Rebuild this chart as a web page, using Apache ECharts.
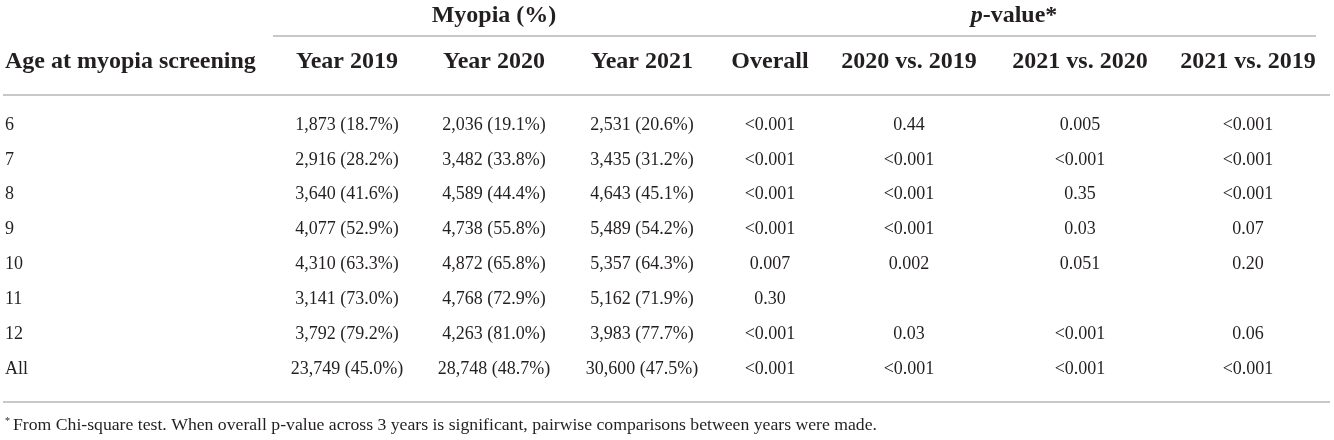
<!DOCTYPE html>
<html>
<head>
<meta charset="utf-8">
<script src="https://cdn.jsdelivr.net/npm/echarts@6/dist/echarts.min.js"></script>
<style>
  html, body { margin: 0; padding: 0; background: #fff; }
  #main { width: 1334px; height: 440px; }
</style>
</head>
<body>
<div id="main"></div>
<script>
// table data
var ages = ['6', '7', '8', '9', '10', '11', '12', 'All']
var columns = ['Year 2019', 'Year 2020', 'Year 2021', 'Overall', '2020 vs. 2019', '2021 vs. 2020', '2021 vs. 2019']
var year2019 = ['1,873 (18.7%)', '2,916 (28.2%)', '3,640 (41.6%)', '4,077 (52.9%)', '4,310 (63.3%)', '3,141 (73.0%)', '3,792 (79.2%)', '23,749 (45.0%)']
var year2020 = ['2,036 (19.1%)', '3,482 (33.8%)', '4,589 (44.4%)', '4,738 (55.8%)', '4,872 (65.8%)', '4,768 (72.9%)', '4,263 (81.0%)', '28,748 (48.7%)']
var year2021 = ['2,531 (20.6%)', '3,435 (31.2%)', '4,643 (45.1%)', '5,489 (54.2%)', '5,357 (64.3%)', '5,162 (71.9%)', '3,983 (77.7%)', '30,600 (47.5%)']
var pOverall = ['<0.001', '<0.001', '<0.001', '<0.001', '0.007', '0.30', '<0.001', '<0.001']
var p2020vs2019 = ['0.44', '<0.001', '<0.001', '<0.001', '0.002', '', '0.03', '<0.001']
var p2021vs2020 = ['0.005', '<0.001', '0.35', '0.03', '0.051', '', '<0.001', '<0.001']
var p2021vs2019 = ['<0.001', '<0.001', '<0.001', '0.07', '0.20', '', '0.06', '<0.001']

var serif = '"Liberation Serif", "DejaVu Serif", serif'
var ink = '#231f20'
var rule = '#c8c8c8'

// 列边界 (layout only)
var colEdges = [273.5, 420.5, 567.5, 716.5, 823.5, 994.5, 1165.5, 1330.5]
var gridTop = 107.5
var gridBottom = 53.5

var cols = [year2019, year2020, year2021, pOverall, p2020vs2019, p2021vs2020, p2021vs2019]

var grids = [], xAxes = [], yAxes = [], series = []
/* 每列一个 grid, 文字作为标签 */
cols.forEach(function (col, c) {
    grids.push({ left: colEdges[c], width: colEdges[c + 1] - colEdges[c], top: gridTop, bottom: gridBottom })
    xAxes.push({
        type: 'category',
        gridIndex: c,
        position: 'top',
        data: [columns[c]],
        axisLine: { show: false },
        axisTick: { show: false },
        splitLine: { show: false },
        axisLabel: {
            interval: 0,
            margin: gridTop - 62,
            verticalAlign: 'middle',
            fontFamily: serif,
            fontWeight: 'bold',
            fontSize: 24,
            color: ink
        }
    })
    yAxes.push({
        type: 'category',
        gridIndex: c,
        inverse: true,
        data: ages,
        show: c === 0,
        axisLine: { show: false },
        axisTick: { show: false },
        splitLine: { show: false },
        axisLabel: {
            interval: 0,
            align: 'left',
            margin: colEdges[0] - 5,
            fontFamily: serif,
            fontSize: 18,
            color: ink
        }
    })
    series.push({
        type: 'scatter',
        xAxisIndex: c,
        yAxisIndex: c,
        symbolSize: 0,
        silent: true,
        itemStyle: { opacity: 1 },
        data: col.map(function (txt, r) { return [0, r, txt] }),
        label: {
            show: true,
            position: 'inside',
            formatter: function (p) { return p.value[2] },
            fontFamily: serif,
            fontSize: 18,
            color: ink,
            textBorderWidth: 0
        }
    })
})

var chart = echarts.init(document.getElementById('main'), null, { renderer: 'canvas' })
var option = {
    backgroundColor: '#fff',
    animation: false,
    grid: grids,
    xAxis: xAxes,
    yAxis: yAxes,
    graphic: [
        { type: 'text', x: 5, y: 62, style: { text: 'Age at myopia screening', font: 'bold 24px ' + serif, fill: ink, verticalAlign: 'middle' } },
        { type: 'text', x: 494, y: 16, style: { text: 'Myopia (%)', font: 'bold 24px ' + serif, fill: ink, align: 'center', verticalAlign: 'middle' } },
        { type: 'text', x: 1014, y: 16, style: {
            text: '{i|p}-value*',
            font: 'bold 24px ' + serif, fill: ink, align: 'center', verticalAlign: 'middle',
            rich: { i: { fontStyle: 'italic', fontWeight: 'bold', fontFamily: serif, fontSize: 24, fill: ink } }
        } },
        // 表格横线
        { type: 'line', shape: { x1: 273, y1: 36, x2: 1316, y2: 36 }, style: { stroke: rule, lineWidth: 2 } },
        { type: 'line', shape: { x1: 3, y1: 95, x2: 1330, y2: 95 }, style: { stroke: rule, lineWidth: 2 } },
        { type: 'line', shape: { x1: 3, y1: 402, x2: 1330, y2: 402 }, style: { stroke: rule, lineWidth: 2 } },
        { type: 'text', x: 5, y: 425, style: {
            text: '{s|*}From Chi-square test. When overall p-value across 3 years is significant, pairwise comparisons between years were made.',
            font: '17.7px ' + serif, fill: ink, verticalAlign: 'middle',
            rich: { s: { fontSize: 10, verticalAlign: 'top', fontFamily: serif, fill: ink, padding: [0, 3, 0, 0] } }
        } }
    ],
    series: series
}
chart.setOption(option)
</script>
</body>
</html>
